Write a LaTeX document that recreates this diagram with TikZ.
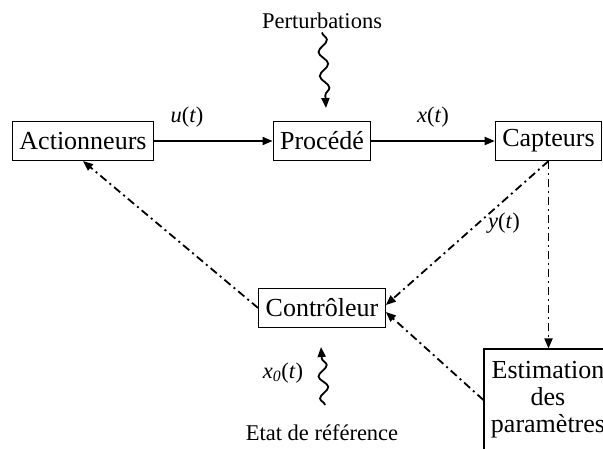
\documentclass[tikz,border=0pt]{standalone}
\usepackage{fontspec}
\setmainfont{Liberation Serif}
\usetikzlibrary{arrows.meta,decorations.pathmorphing}

\begin{document}
\begin{tikzpicture}[
  x=1pt, y=-1pt,
  bloc/.style={draw, line width=1.1pt, inner xsep=7pt, minimum height=39pt,
    font=\fontsize{26}{27}\selectfont},
  lbl/.style={font=\fontsize{22.5}{24}\selectfont},
  fleche/.style={line width=1.8pt, -{Triangle[length=10pt,width=8pt]}},
  retour/.style={line width=1.8pt, dash pattern=on 8pt off 4pt on 2pt off 4pt,
    -{Triangle[length=10pt,width=8pt]}},
  onde/.style={line width=1.8pt, -{Triangle[length=10pt,width=8pt]}, decorate,
    decoration={snake, amplitude=4.5pt, segment length=24pt, post length=9pt}}
]
\path[use as bounding box, clip] (0,0) rectangle (603,448);

% chaine directe
\node[bloc] (act) at (83,141) {Actionneurs};
\node[bloc] (proc) at (322,141) {Procédé};
\node[bloc] (capt) at (548.5,141) {Capteurs};
\node[lbl] (usig) at (187,117) {\textit{u}(\textit{t})};
\node[lbl] (xsig) at (433,117) {\textit{x}(\textit{t})};
\draw[fleche] (act) -- (proc);
\draw[fleche] (proc) -- (capt);

% perturbations
\node[lbl] (pert) at (322,21) {Perturbations};
\coordinate (pertbout) at (326,108);
\draw[onde] (pert.south) -- (pertbout);

% boucle de commande
\node[bloc] (ctrl) at (322,308) {Contrôleur};
\node[bloc, align=center, minimum width=128pt, minimum height=102pt] (estim) at (548,400)
  {Estimation\\des\\paramètres};
\node[lbl] (ysig) at (504,223) {\textit{y}(\textit{t})};
\draw[retour] (ctrl.west) -- (act.south);
\draw[retour] (capt.south) -- ([yshift=3pt]ctrl.east);
\draw[retour] (capt.south) -- (capt.south |- estim.north);
\draw[retour] (estim.west) -- ([yshift=-4pt]ctrl.east);

% etat de reference
\node[lbl] (ref) at (322,433) {Etat de référence};
\node[lbl] (xzero) at (283,373) {\textit{x}\textsubscript{\textit{0}}(\textit{t})};
\coordinate (refbas) at (325,405);
\coordinate (refhaut) at (321,347);
\draw[onde, decoration={segment length=22pt}] (refbas) -- (refhaut);
\end{tikzpicture}
\end{document}
